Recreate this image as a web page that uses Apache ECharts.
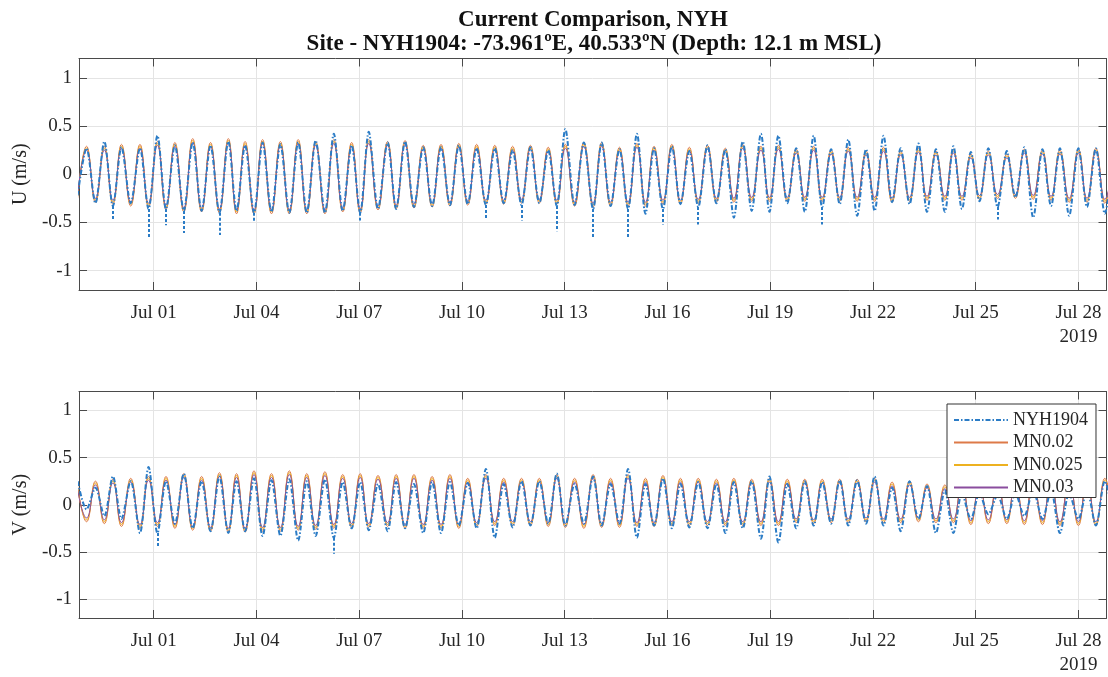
<!DOCTYPE html>
<html>
<head>
<meta charset="utf-8">
<script src="https://cdn.jsdelivr.net/npm/echarts@6/dist/echarts.min.js"></script>
<style>
html, body { margin: 0; padding: 0; background: #fff; }
#chart { width: 1108px; height: 677px; }
</style>
</head>
<body>
<div id="chart"></div>
<script>
// time in days since 2019-06-28 00:00, extrema of the tide (low of U / high of V, then high of U / low of V)
var days = [0.78,1.04, 1.30,1.56, 1.81,2.06, 2.33,2.60, 2.85,3.11, 3.36,3.62, 3.88,4.14, 4.40,4.66, 4.92,5.18, 5.42,5.67,
  5.93,6.18, 6.44,6.70, 6.96,7.22, 7.47,7.73, 8.00,8.26, 8.52,8.78, 9.03,9.28, 9.55,9.83, 10.08,10.34, 10.60,10.87,
  11.13,11.39, 11.65,11.91, 12.17,12.43, 12.70,12.96, 13.22,13.48, 13.74,14.00, 14.26,14.52, 14.77,15.02, 15.29,15.56, 15.83,16.08,
  16.34,16.60, 16.85,17.11, 17.36,17.61, 17.87,18.13, 18.38,18.64, 18.90,19.17, 19.43,19.69, 19.94,20.20, 20.46,20.73, 20.98,21.24,
  21.50,21.76, 22.01,22.27, 22.52,22.78, 23.03,23.28, 23.54,23.80, 24.05,24.31, 24.56,24.81, 25.07,25.33, 25.58,25.84, 26.10,26.35,
  26.60,26.86, 27.11,27.37, 27.64,27.91, 28.16,28.42, 28.68,28.95, 29.20,29.46, 29.73,30.00, 30.25,30.51, 30.77,31.03];

var uObs = [-0.22,0.27, -0.30,0.34, -0.33,0.28, -0.30,0.27, -0.36,0.40, -0.36,0.30, -0.38,0.33, -0.38,0.30, -0.40,0.34, -0.38,0.30,
  -0.40,0.33, -0.39,0.31, -0.40,0.33, -0.40,0.35, -0.40,0.42, -0.38,0.30, -0.40,0.44, -0.36,0.33, -0.36,0.34, -0.34,0.28,
  -0.33,0.28, -0.32,0.30, -0.31,0.27, -0.32,0.27, -0.30,0.25, -0.32,0.28, -0.30,0.25, -0.33,0.47, -0.32,0.33, -0.36,0.33,
  -0.33,0.26, -0.36,0.42, -0.41,0.27, -0.36,0.29, -0.31,0.24, -0.34,0.30, -0.30,0.26, -0.45,0.34, -0.38,0.42, -0.39,0.40,
  -0.30,0.27, -0.39,0.40, -0.34,0.26, -0.31,0.36, -0.43,0.26, -0.38,0.40, -0.29,0.27, -0.31,0.32, -0.39,0.26, -0.39,0.29,
  -0.36,0.23, -0.28,0.27, -0.34,0.24, -0.24,0.28, -0.45,0.26, -0.33,0.27, -0.43,0.27, -0.34,0.27, -0.41,0.26];
var uMN002 = [-0.25,0.29, -0.29,0.29, -0.31,0.31, -0.33,0.31, -0.34,0.34, -0.36,0.33, -0.39,0.37, -0.39,0.33, -0.40,0.37, -0.41,0.34,
  -0.41,0.36, -0.41,0.34, -0.41,0.36, -0.41,0.34, -0.41,0.36, -0.39,0.33, -0.40,0.36, -0.37,0.34, -0.36,0.35, -0.35,0.30,
  -0.34,0.31, -0.33,0.32, -0.32,0.31, -0.31,0.30, -0.31,0.29, -0.30,0.30, -0.30,0.28, -0.31,0.31, -0.33,0.33, -0.34,0.33,
  -0.33,0.28, -0.33,0.32, -0.33,0.29, -0.31,0.31, -0.31,0.28, -0.30,0.30, -0.29,0.27, -0.29,0.31, -0.28,0.29, -0.28,0.30,
  -0.28,0.26, -0.28,0.29, -0.28,0.25, -0.28,0.28, -0.28,0.24, -0.28,0.28, -0.29,0.24, -0.28,0.27, -0.27,0.24, -0.27,0.26,
  -0.27,0.21, -0.26,0.24, -0.25,0.21, -0.25,0.26, -0.26,0.25, -0.27,0.25, -0.29,0.26, -0.29,0.27, -0.30,0.27];
var uMN0025 = [-0.23,0.27, -0.27,0.27, -0.29,0.29, -0.31,0.29, -0.32,0.32, -0.34,0.31, -0.37,0.35, -0.37,0.31, -0.38,0.35, -0.39,0.32,
  -0.39,0.34, -0.39,0.32, -0.39,0.34, -0.39,0.32, -0.39,0.34, -0.37,0.31, -0.38,0.34, -0.35,0.32, -0.34,0.33, -0.33,0.28,
  -0.32,0.29, -0.31,0.30, -0.30,0.29, -0.29,0.28, -0.29,0.27, -0.28,0.28, -0.28,0.26, -0.29,0.29, -0.31,0.31, -0.32,0.31,
  -0.31,0.26, -0.31,0.30, -0.31,0.27, -0.29,0.29, -0.29,0.26, -0.28,0.28, -0.27,0.25, -0.27,0.29, -0.26,0.27, -0.26,0.28,
  -0.26,0.24, -0.26,0.27, -0.26,0.23, -0.26,0.26, -0.26,0.22, -0.26,0.26, -0.27,0.22, -0.26,0.25, -0.25,0.22, -0.25,0.24,
  -0.25,0.19, -0.24,0.22, -0.23,0.19, -0.23,0.24, -0.24,0.23, -0.25,0.23, -0.27,0.24, -0.27,0.25, -0.28,0.25];
var uMN003 = [-0.21,0.25, -0.25,0.25, -0.27,0.27, -0.29,0.27, -0.30,0.30, -0.32,0.29, -0.35,0.33, -0.35,0.29, -0.36,0.33, -0.37,0.30,
  -0.37,0.32, -0.37,0.30, -0.37,0.32, -0.37,0.30, -0.37,0.32, -0.35,0.29, -0.36,0.32, -0.33,0.30, -0.32,0.31, -0.31,0.26,
  -0.30,0.27, -0.29,0.28, -0.28,0.27, -0.27,0.26, -0.27,0.25, -0.26,0.26, -0.26,0.24, -0.27,0.27, -0.29,0.29, -0.30,0.29,
  -0.29,0.24, -0.29,0.28, -0.29,0.25, -0.27,0.27, -0.27,0.24, -0.26,0.26, -0.25,0.23, -0.25,0.27, -0.24,0.25, -0.24,0.26,
  -0.24,0.22, -0.24,0.25, -0.24,0.21, -0.24,0.24, -0.24,0.20, -0.24,0.24, -0.25,0.20, -0.24,0.23, -0.23,0.20, -0.23,0.22,
  -0.23,0.17, -0.22,0.20, -0.21,0.17, -0.21,0.22, -0.22,0.21, -0.23,0.21, -0.25,0.22, -0.25,0.23, -0.26,0.23];

var vObs = [0.25,-0.05, 0.18,-0.12, 0.30,-0.15, 0.25,-0.30, 0.40,-0.30, 0.25,-0.20, 0.33,-0.25, 0.25,-0.28, 0.30,-0.30, 0.25,-0.28,
  0.28,-0.33, 0.26,-0.33, 0.27,-0.38, 0.25,-0.33, 0.27,-0.35, 0.24,-0.25, 0.24,-0.27, 0.22,-0.28, 0.24,-0.25, 0.22,-0.30,
  0.24,-0.30, 0.24,-0.22, 0.23,-0.25, 0.38,-0.35, 0.22,-0.24, 0.25,-0.22, 0.25,-0.20, 0.33,-0.22, 0.22,-0.20, 0.30,-0.22,
  0.22,-0.20, 0.38,-0.35, 0.22,-0.22, 0.28,-0.25, 0.22,-0.24, 0.24,-0.25, 0.22,-0.30, 0.24,-0.25, 0.25,-0.36, 0.30,-0.40,
  0.22,-0.25, 0.25,-0.22, 0.24,-0.20, 0.26,-0.22, 0.26,-0.20, 0.30,-0.22, 0.18,-0.28, 0.25,-0.15, 0.20,-0.30, 0.15,-0.30,
  0.12,-0.15, 0.12,-0.10, 0.10,-0.15, 0.12,-0.12, 0.15,-0.15, 0.15,-0.30, 0.12,-0.15, 0.15,-0.22, 0.25,-0.15];
var vMN002 = [0.20,-0.18, 0.25,-0.20, 0.27,-0.23, 0.28,-0.25, 0.30,-0.23, 0.30,-0.25, 0.33,-0.27, 0.30,-0.28, 0.34,-0.29, 0.33,-0.29,
  0.36,-0.28, 0.33,-0.28, 0.36,-0.27, 0.33,-0.26, 0.35,-0.25, 0.32,-0.24, 0.33,-0.24, 0.31,-0.23, 0.32,-0.25, 0.32,-0.25,
  0.30,-0.25, 0.32,-0.25, 0.28,-0.23, 0.32,-0.22, 0.28,-0.22, 0.28,-0.22, 0.28,-0.23, 0.32,-0.24, 0.28,-0.25, 0.32,-0.24,
  0.28,-0.24, 0.32,-0.23, 0.28,-0.23, 0.31,-0.22, 0.28,-0.22, 0.28,-0.22, 0.27,-0.22, 0.28,-0.22, 0.27,-0.22, 0.28,-0.22,
  0.27,-0.19, 0.27,-0.20, 0.27,-0.19, 0.27,-0.19, 0.27,-0.18, 0.28,-0.19, 0.24,-0.19, 0.25,-0.18, 0.22,-0.19, 0.21,-0.19,
  0.22,-0.21, 0.24,-0.20, 0.25,-0.20, 0.26,-0.21, 0.27,-0.21, 0.27,-0.22, 0.28,-0.22, 0.28,-0.22, 0.28,-0.22];
var vMN0025 = [0.18,-0.16, 0.23,-0.18, 0.25,-0.21, 0.26,-0.23, 0.28,-0.21, 0.28,-0.23, 0.31,-0.25, 0.28,-0.26, 0.32,-0.27, 0.31,-0.27,
  0.34,-0.26, 0.31,-0.26, 0.34,-0.25, 0.31,-0.24, 0.33,-0.23, 0.30,-0.22, 0.31,-0.22, 0.29,-0.21, 0.30,-0.23, 0.30,-0.23,
  0.28,-0.23, 0.30,-0.23, 0.26,-0.21, 0.30,-0.20, 0.26,-0.20, 0.26,-0.20, 0.26,-0.21, 0.30,-0.22, 0.26,-0.23, 0.30,-0.22,
  0.26,-0.22, 0.30,-0.21, 0.26,-0.21, 0.29,-0.20, 0.26,-0.20, 0.26,-0.20, 0.25,-0.20, 0.26,-0.20, 0.25,-0.20, 0.26,-0.20,
  0.25,-0.17, 0.25,-0.18, 0.25,-0.17, 0.25,-0.17, 0.25,-0.16, 0.26,-0.17, 0.22,-0.17, 0.23,-0.16, 0.20,-0.17, 0.19,-0.17,
  0.20,-0.19, 0.22,-0.18, 0.23,-0.18, 0.24,-0.19, 0.25,-0.19, 0.25,-0.20, 0.26,-0.20, 0.26,-0.20, 0.26,-0.20];
var vMN003 = [0.16,-0.14, 0.21,-0.16, 0.23,-0.19, 0.24,-0.21, 0.26,-0.19, 0.26,-0.21, 0.29,-0.23, 0.26,-0.24, 0.30,-0.25, 0.29,-0.25,
  0.32,-0.24, 0.29,-0.24, 0.32,-0.23, 0.29,-0.22, 0.31,-0.21, 0.28,-0.20, 0.29,-0.20, 0.27,-0.19, 0.28,-0.21, 0.28,-0.21,
  0.26,-0.21, 0.28,-0.21, 0.24,-0.19, 0.28,-0.18, 0.24,-0.18, 0.24,-0.18, 0.24,-0.19, 0.28,-0.20, 0.24,-0.21, 0.28,-0.20,
  0.24,-0.20, 0.28,-0.19, 0.24,-0.19, 0.27,-0.18, 0.24,-0.18, 0.24,-0.18, 0.23,-0.18, 0.24,-0.18, 0.23,-0.18, 0.24,-0.18,
  0.23,-0.15, 0.23,-0.16, 0.23,-0.15, 0.23,-0.15, 0.23,-0.14, 0.24,-0.15, 0.20,-0.15, 0.21,-0.14, 0.18,-0.15, 0.17,-0.15,
  0.18,-0.17, 0.20,-0.16, 0.21,-0.16, 0.22,-0.17, 0.23,-0.17, 0.23,-0.18, 0.24,-0.18, 0.24,-0.18, 0.24,-0.18];

// short drops in the measured record (day, tip value)
var uSpikeDay = [1.81, 2.85, 3.36, 3.88, 4.92, 5.93, 9.03, 12.70, 13.74, 14.77, 15.83, 16.85, 17.87, 18.90, 22.52, 27.64];
var uSpikeTip = [-0.47, -0.67, -0.53, -0.61, -0.63, -0.50, -0.48, -0.47, -0.48, -0.59, -0.67, -0.67, -0.52, -0.52, -0.52, -0.47];
var vSpikeDay = [3.11, 8.26];
var vSpikeTip = [-0.44, -0.52];

var tickDays = [3, 6, 9, 12, 15, 18, 21, 24, 27, 30];
var tickText = ['Jul 01', 'Jul 04', 'Jul 07', 'Jul 10', 'Jul 13', 'Jul 16', 'Jul 19', 'Jul 22', 'Jul 25', 'Jul 28\n2019'];
var yTicks = [-1, -0.5, 0, 0.5, 1];
var dayMin = 0.82, dayMax = 30.82;

var serif = '"Liberation Serif", "Times New Roman", serif';
var axisColor = '#4a4a4a';
var textColor = '#262626';
var gridColor = '#e4e4e4';
var colors = ['#2b7cc6', '#dd7a48', '#edb120', '#8a4d9e'];

function pairs(vals) {
  return days.map(function (d, i) { return [d, vals[i]]; });
}

function xAxes(gi) {
  return [{
    type: 'value', gridIndex: gi, position: 'bottom', min: dayMin, max: dayMax,
    axisLine: { show: true, onZero: false, lineStyle: { color: axisColor } },
    axisTick: { show: true, inside: true, length: 8, customValues: tickDays, lineStyle: { color: axisColor } },
    axisLabel: {
      customValues: tickDays, margin: 11, color: textColor, fontFamily: serif, fontSize: 19, lineHeight: 24,
      formatter: function (v) { return tickText[tickDays.indexOf(v)]; }
    },
    splitLine: { show: true, lineStyle: { color: gridColor } }
  }, {
    type: 'value', gridIndex: gi, position: 'top', min: dayMin, max: dayMax,
    axisLine: { show: true, onZero: false, lineStyle: { color: axisColor } },
    axisTick: { show: true, inside: true, length: 8, customValues: tickDays, lineStyle: { color: axisColor } },
    axisLabel: { show: false },
    splitLine: { show: false }
  }];
}

function yAxes(gi, name) {
  return [{
    type: 'value', gridIndex: gi, position: 'left', min: -1.2, max: 1.2,
    name: name, nameLocation: 'middle', nameGap: 42, nameRotate: 90,
    nameTextStyle: { color: textColor, fontFamily: serif, fontSize: 20 },
    axisLine: { show: true, lineStyle: { color: axisColor } },
    axisTick: { show: true, inside: true, length: 8, customValues: yTicks, lineStyle: { color: axisColor } },
    axisLabel: { customValues: yTicks, margin: 7, color: textColor, fontFamily: serif, fontSize: 19 },
    splitLine: { show: true, lineStyle: { color: gridColor } }
  }, {
    type: 'value', gridIndex: gi, position: 'right', min: -1.2, max: 1.2,
    axisLine: { show: true, lineStyle: { color: axisColor } },
    axisTick: { show: true, inside: true, length: 8, customValues: yTicks, lineStyle: { color: axisColor } },
    axisLabel: { show: false },
    splitLine: { show: false }
  }];
}

function lineSeries(name, vals, ax, color, obs) {
  return {
    name: name, type: 'line', xAxisIndex: ax, yAxisIndex: ax,
    data: pairs(vals), symbol: 'none', showSymbol: false, smooth: obs ? 0.3 : 0.5,
    lineStyle: obs ? { color: color, width: 2, type: [5, 2, 1.5, 2] } : { color: color, width: 1 },
    itemStyle: { color: color }, animation: false, z: obs ? 3 : 2
  };
}

function spikeSeries(dayArr, tipArr, base, ax) {
  return {
    name: 'spikes', type: 'lines', coordinateSystem: 'cartesian2d', xAxisIndex: ax, yAxisIndex: ax,
    data: dayArr.map(function (d, i) { return { coords: [[d, base[days.indexOf(d)]], [d, tipArr[i]]] }; }),
    lineStyle: { color: colors[0], width: 2, type: [3, 2], opacity: 1 }, animation: false, z: 3
  };
}

var chart = echarts.init(document.getElementById('chart'));
chart.setOption({
  animation: false,
  backgroundColor: '#fff',
  graphic: [
    { type: 'text', x: 593, y: 20, style: { text: 'Current Comparison, NYH', textAlign: 'center', textVerticalAlign: 'middle', fill: '#111', font: 'bold 23px "Liberation Serif", serif' } },
    { type: 'text', x: 594, y: 44, style: { text: 'Site - NYH1904: -73.961ºE, 40.533ºN (Depth: 12.1 m MSL)', textAlign: 'center', textVerticalAlign: 'middle', fill: '#111', font: 'bold 23px "Liberation Serif", serif' } }
  ],
  grid: [
    { left: 79, top: 58.5, width: 1027.5, height: 231.5 },
    { left: 79, top: 391.5, width: 1027.5, height: 231 }
  ],
  xAxis: xAxes(0).concat(xAxes(1)),
  yAxis: yAxes(0, 'U (m/s)').concat(yAxes(1, 'V (m/s)')),
  legend: {
    data: ['NYH1904', 'MN0.02', 'MN0.025', 'MN0.03'],
    orient: 'vertical', left: 947, top: 404,
    itemWidth: 54, itemHeight: 14, itemGap: 4.5,
    itemStyle: { opacity: 0 },
    backgroundColor: '#fff', borderColor: '#333', borderWidth: 1,
    padding: [7, 8, 1, 6],
    textStyle: { color: textColor, fontFamily: serif, fontSize: 18 }
  },
  series: [
    lineSeries('MN0.02', uMN002, 0, colors[1]),
    lineSeries('MN0.025', uMN0025, 0, colors[2]),
    lineSeries('MN0.03', uMN003, 0, colors[3]),
    lineSeries('NYH1904', uObs, 0, colors[0], true),
    spikeSeries(uSpikeDay, uSpikeTip, uObs, 0),
    lineSeries('MN0.02', vMN002, 2, colors[1]),
    lineSeries('MN0.025', vMN0025, 2, colors[2]),
    lineSeries('MN0.03', vMN003, 2, colors[3]),
    lineSeries('NYH1904', vObs, 2, colors[0], true),
    spikeSeries(vSpikeDay, vSpikeTip, vObs, 2)
  ]
});
</script>
</body>
</html>
